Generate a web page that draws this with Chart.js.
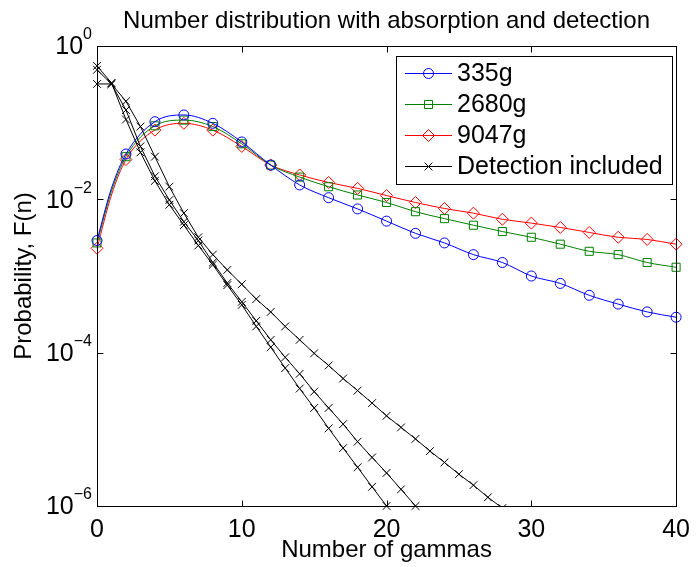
<!DOCTYPE html>
<html><head><meta charset="utf-8">
<script src="https://cdn.jsdelivr.net/npm/chart.js@4/dist/chart.umd.min.js"></script>
<style>html,body{margin:0;padding:0;background:#fff;} #wrap{width:699px;height:567px;}</style>
</head><body><div id="wrap"><canvas id="c" width="699" height="567"></canvas></div>
<script>
const FONT = '"Liberation Sans", Arial, Helvetica, sans-serif';
const titleText = 'Number distribution with absorption and detection';
const xTitle = 'Number of gammas';
const yTitle = 'Probability, F(n)';
const xTicks = [0, 10, 20, 30, 40];
const yTickExp = [0, -2, -4, -6];
const seriesNames = ['335g', '2680g', '9047g', 'Detection included'];

// colored series (markers at even n; n = 1 carries no marker)
const colorN = [0, 1, 2, 4, 6, 8, 10, 12, 14, 16, 18, 20, 22, 24, 26, 28, 30, 32, 34, 36, 38, 40];
const s335  = [0.0029, 0.014, 0.039, 0.103, 0.126, 0.098, 0.056, 0.028, 0.0154, 0.0105, 0.0075, 0.0052, 0.0036, 0.0027, 0.0019, 0.0015, 0.0010, 0.00080, 0.00056, 0.00043, 0.00034, 0.00029];
const s2680 = [0.0027, 0.0128, 0.036, 0.091, 0.108, 0.089, 0.053, 0.028, 0.0195, 0.0146, 0.0114, 0.0091, 0.0069, 0.0056, 0.0046, 0.0038, 0.0032, 0.0026, 0.0021, 0.0019, 0.0015, 0.0013];
const s9047 = [0.0023, 0.0114, 0.033, 0.080, 0.098, 0.080, 0.049, 0.028, 0.0208, 0.0166, 0.0139, 0.0112, 0.0091, 0.0076, 0.0066, 0.0055, 0.0049, 0.0043, 0.0037, 0.0032, 0.0030, 0.0026];

// detection-included curves, value index = n
const detA = [0.55, 0.33, 0.11, 0.041, 0.0174, 0.0085, 0.0046, 0.0025, 0.0014, 0.00076, 0.00042, 0.00022, 0.000118, 0.000063, 0.000034, 0.000019, 0.0000103, 0.0000057, 0.0000032, 0.00000178, 0.000001];
const detB = [0.49, 0.32, 0.146, 0.049, 0.020, 0.0098, 0.0051, 0.0029, 0.0015, 0.00081, 0.00046, 0.00026, 0.000147, 0.000087, 0.000053, 0.000031, 0.000019, 0.0000117, 0.0000069, 0.0000043, 0.0000027, 0.00000165, 0.000001];
const detC = [0.32, 0.32, 0.19, 0.089, 0.036, 0.0146, 0.0066, 0.0032, 0.0019, 0.0012, 0.00078, 0.00050, 0.00034, 0.00022, 0.000147, 0.000098, 0.000068, 0.000046, 0.000032, 0.000022, 0.000015, 0.0000106, 0.0000075, 0.0000052, 0.0000037, 0.0000026, 0.00000187, 0.0000013, 0.00000094];

const BLUE = '#0000ff', GREEN = '#008000', RED = '#ff0000', BLACK = '#000000';

function colored(vals, label, color, style, r) {
  return {
    label, data: colorN.map((n, i) => ({x: n, y: vals[i]})),
    borderColor: color, borderWidth: 1, backgroundColor: 'rgba(0,0,0,0)',
    pointStyle: style, pointRadius: colorN.map(n => n === 1 ? 0 : r),
    pointBorderColor: color, pointBackgroundColor: 'rgba(0,0,0,0)', pointBorderWidth: 1,
    cubicInterpolationMode: 'monotone', clip: 10, order: 2
  };
}
function det(vals, clipBottom) {
  return {
    label: seriesNames[3], data: vals.map((v, n) => ({x: n, y: v})),
    borderColor: BLACK, borderWidth: 1, backgroundColor: 'rgba(0,0,0,0)',
    pointStyle: 'crossRot', pointRadius: 5.5, pointBorderColor: BLACK, pointBorderWidth: 1,
    tension: 0, clip: {left: 10, top: 10, right: 10, bottom: clipBottom}, order: 1
  };
}

function drawMarker(ctx, style, x, y, r) {
  ctx.beginPath();
  if (style === 'circle') { ctx.arc(x, y, r, 0, Math.PI * 2); }
  else if (style === 'rect') { const h = r * Math.SQRT1_2; ctx.rect(x - h, y - h, 2 * h, 2 * h); }
  else if (style === 'rectRot') { ctx.moveTo(x, y - r); ctx.lineTo(x + r, y); ctx.lineTo(x, y + r); ctx.lineTo(x - r, y); ctx.closePath(); }
  else if (style === 'crossRot') { const h = r * Math.SQRT1_2; ctx.moveTo(x - h, y - h); ctx.lineTo(x + h, y + h); ctx.moveTo(x + h, y - h); ctx.lineTo(x - h, y + h); }
  ctx.stroke();
}

const deco = {
  id: 'deco',
  afterDatasetsDraw(chart) {
    const {ctx, chartArea: a, scales: {x, y}} = chart;
    ctx.save();
    ctx.strokeStyle = BLACK; ctx.lineWidth = 1;
    const L = Math.round(a.left) + 0.5, T = Math.round(a.top) + 0.5, R = Math.round(a.right) + 0.5, B = Math.round(a.bottom) + 0.5;
    ctx.strokeRect(L, T, R - L, B - T);
    ctx.beginPath();
    xTicks.forEach(t => {
      const px = Math.round(x.getPixelForValue(t)) + 0.5;
      ctx.moveTo(px, B); ctx.lineTo(px, B - 6);
      ctx.moveTo(px, T); ctx.lineTo(px, T + 6);
    });
    yTickExp.forEach(e => {
      const py = Math.round(y.getPixelForValue(Math.pow(10, e))) + 0.5;
      ctx.moveTo(L, py); ctx.lineTo(L + 6, py);
      ctx.moveTo(R, py); ctx.lineTo(R - 6, py);
    });
    ctx.stroke();
    // title centred over the plot
    ctx.fillStyle = BLACK; ctx.textAlign = 'center'; ctx.textBaseline = 'alphabetic';
    ctx.font = '24px ' + FONT;
    ctx.fillText(titleText, (a.left + a.right) / 2, 27.5);
    // y tick labels with superscript exponent
    ctx.textAlign = 'right'; ctx.textBaseline = 'middle';
    yTickExp.forEach(e => {
      const py = y.getPixelForValue(Math.pow(10, e));
      const ex = e === 0 ? '0' : '\u2212' + Math.abs(e);
      ctx.font = '16px ' + FONT;
      const we = ctx.measureText(ex).width;
      const xr = a.left - 5;
      ctx.fillText(ex, xr, py - 11);
      ctx.font = '25px ' + FONT;
      ctx.fillText('10', xr - we, py + 1.5);
    });
    // legend
    const bx = 396.5, by = 56.5, bw = 276, bh = 128;
    ctx.fillStyle = '#ffffff'; ctx.fillRect(bx, by, bw, bh);
    ctx.strokeStyle = BLACK; ctx.strokeRect(bx, by, bw, bh);
    const rows = [
      {c: BLUE, s: 'circle', r: 5, t: seriesNames[0]},
      {c: GREEN, s: 'rect', r: 5.7, t: seriesNames[1]},
      {c: RED, s: 'rectRot', r: 6, t: seriesNames[2]},
      {c: BLACK, s: 'crossRot', r: 5.5, t: seriesNames[3]}
    ];
    const rowY = [73.5, 104.5, 135.5, 166.5];
    rows.forEach((row, i) => {
      const yy = rowY[i];
      ctx.strokeStyle = row.c; ctx.lineWidth = 1;
      ctx.beginPath(); ctx.moveTo(405, yy); ctx.lineTo(452, yy); ctx.stroke();
      ctx.strokeStyle = row.c;
      drawMarker(ctx, row.s, 428.5, yy, row.r);
      ctx.fillStyle = BLACK; ctx.font = '25px ' + FONT; ctx.textAlign = 'left'; ctx.textBaseline = 'middle';
      ctx.fillText(row.t, 457, yy + 1);
    });
    ctx.restore();
  }
};

new Chart(document.getElementById('c'), {
  type: 'line',
  data: {
    datasets: [
      colored(s335, seriesNames[0], BLUE, 'circle', 5),
      colored(s2680, seriesNames[1], GREEN, 'rect', 5.7),
      colored(s9047, seriesNames[2], RED, 'rectRot', 6),
      det(detA, 8), det(detB, 8), det(detC, 0)
    ]
  },
  options: {
    responsive: false, animation: false, events: [],
    layout: {padding: {left: 0, right: 15.7, top: 46, bottom: 0}},
    plugins: {legend: {display: false}, tooltip: {enabled: false}, title: {display: false}},
    scales: {
      x: {
        type: 'linear', min: 0, max: 40,
        afterBuildTicks: s => { s.ticks = xTicks.map(v => ({value: v})); },
        ticks: {color: BLACK, font: {family: FONT, size: 25}, padding: 9, maxRotation: 0},
        grid: {display: false, drawTicks: false}, border: {display: false},
        title: {display: true, text: xTitle, color: BLACK, font: {family: FONT, size: 24}, padding: {top: 0, bottom: 2.6}},
        afterFit: s => { s.height = 61; }
      },
      y: {
        type: 'logarithmic', min: 1e-6, max: 1,
        afterBuildTicks: s => { s.ticks = yTickExp.map(e => ({value: Math.pow(10, e)})); },
        ticks: {display: false},
        grid: {display: false, drawTicks: false}, border: {display: false},
        title: {display: true, text: yTitle, color: BLACK, font: {family: FONT, size: 24}, padding: {top: 9.5, bottom: 0}},
        afterFit: s => { s.width = 97; }
      }
    }
  },
  plugins: [deco]
});
</script></body></html>
